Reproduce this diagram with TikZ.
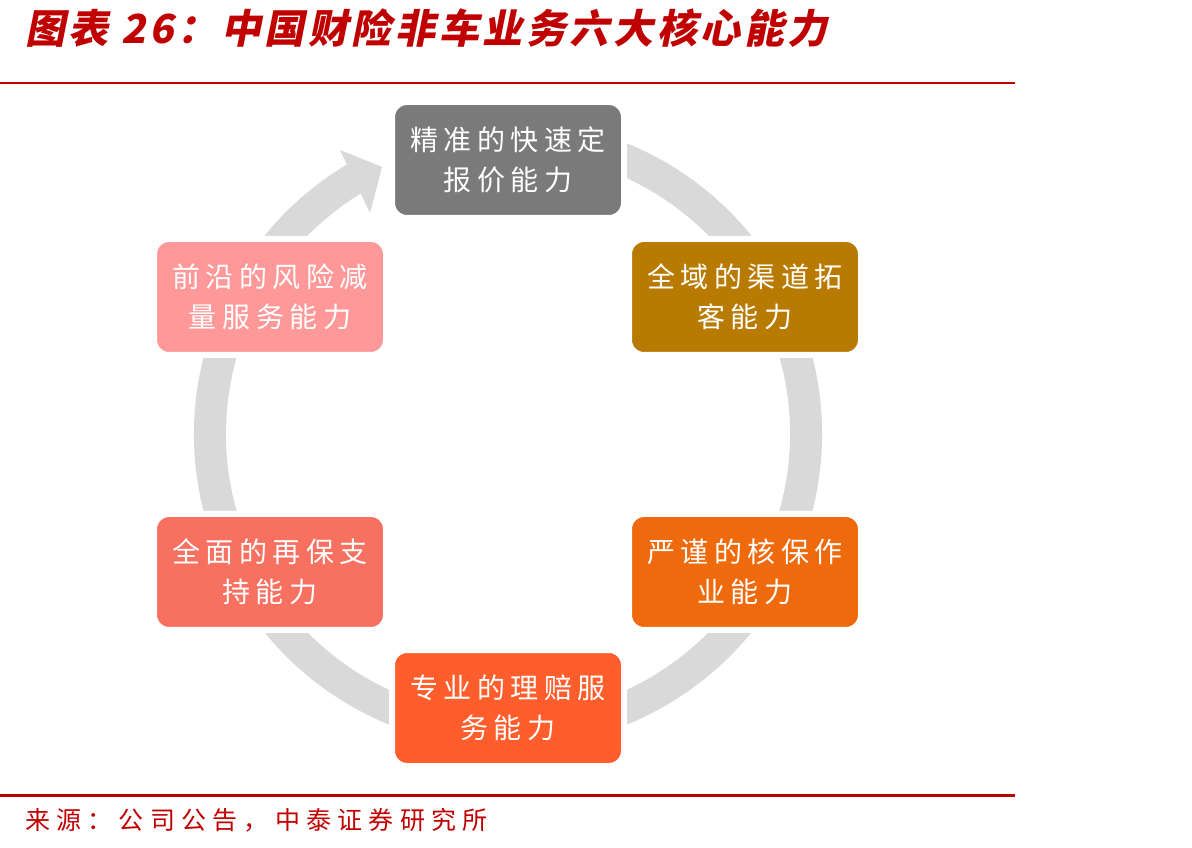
\documentclass[tikz,border=0pt]{standalone}
\usepackage{fontspec}
\newfontfamily\cjk{Noto Sans CJK SC}[LetterSpace=20]
\newfontfamily\cjktitle{Noto Sans CJK SC}[FakeSlant=0.2,LetterSpace=9]
\newfontfamily\cjksrc{Noto Sans CJK SC}[LetterSpace=25]
\definecolor{brandred}{RGB}{192,0,0}
\definecolor{ringgray}{RGB}{217,217,217}
\definecolor{cgray}{RGB}{122,122,122}
\definecolor{cgold}{RGB}{184,122,0}
\definecolor{corange}{RGB}{238,106,12}
\definecolor{cred}{RGB}{255,94,44}
\definecolor{csalmon}{RGB}{248,112,96}
\definecolor{cpink}{RGB}{255,153,153}
\tikzset{
  capbox/.style={rectangle, rounded corners=15pt, draw=white, line width=6pt,
    minimum width=232pt, minimum height=116pt, inner sep=0pt, text=white,
    align=center, font=\cjk\fontsize{28}{40}\selectfont},
  ring/.style={draw=ringgray, line width=32pt},
}
\begin{document}
\begin{tikzpicture}[x=1pt,y=1pt]
\useasboundingbox (0,0) rectangle (1192,847);
% title
\node[anchor=base west, inner sep=0pt, text=brandred, font=\cjktitle\bfseries\fontsize{40}{44}\selectfont] (title) at (25,803) {图表 26：中国财险非车业务六大核心能力};
\draw[brandred, line width=2.5pt] (0,764) -- (1015,764);
% ring arrow
\coordinate (c) at (508,413);
\begin{scope}[shift={(c)}]
  \draw[ring] (75:298pt) arc[start angle=75, end angle=-240, radius=298pt];
\end{scope}
\fill[ringgray] (340,697) -- (382,680) -- (370,634) -- cycle;
% boxes
\node[capbox, fill=cgray]    (n1) at (508,687) {精准的快速定\\报价能力};
\node[capbox, fill=cgold]    (n2) at (745,550) {全域的渠道拓\\客能力};
\node[capbox, fill=corange]  (n3) at (745,275) {严谨的核保作\\业能力};
\node[capbox, fill=cred]     (n4) at (508,139) {专业的理赔服\\务能力};
\node[capbox, fill=csalmon]  (n5) at (270,275) {全面的再保支\\持能力};
\node[capbox, fill=cpink]    (n6) at (270,550) {前沿的风险减\\量服务能力};
% footer
\draw[brandred, line width=3pt] (0,52) -- (1015,52);
\node[anchor=base west, inner sep=0pt, text=brandred, font=\cjksrc\fontsize{25}{28}\selectfont] (src) at (25,18) {来源：公司公告，中泰证券研究所};
\end{tikzpicture}
\end{document}
